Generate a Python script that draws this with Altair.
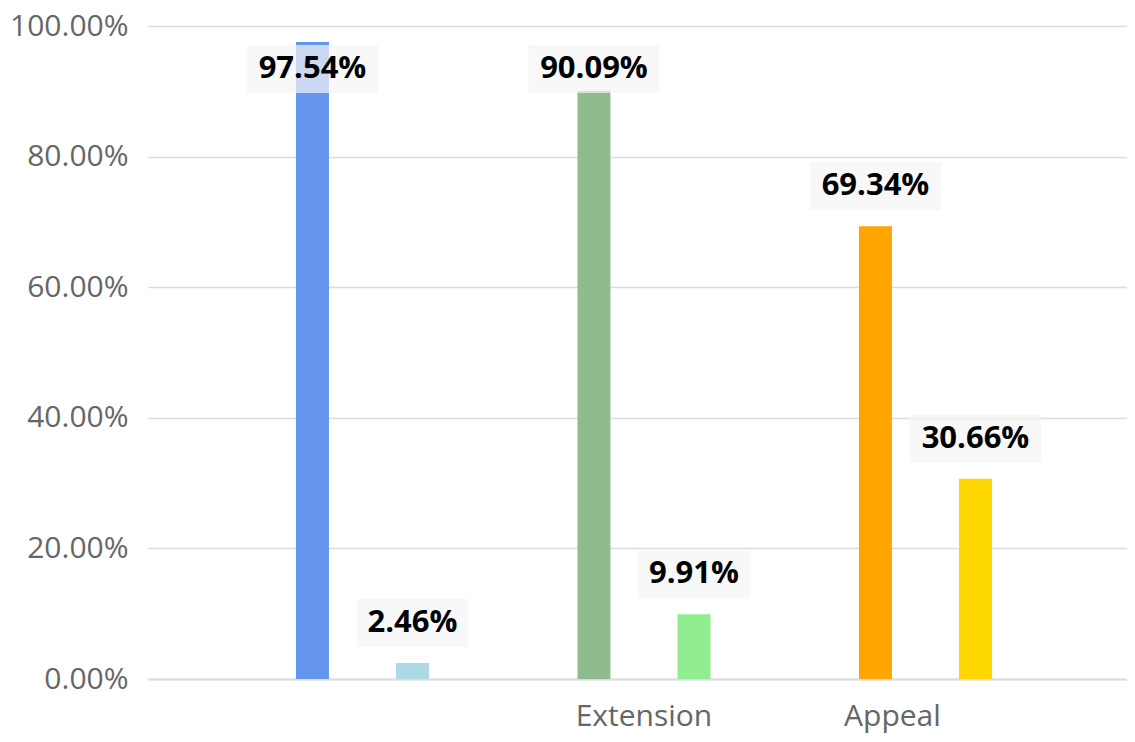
import altair as alt
import pandas as pd

categories = ["", "Extension", "Appeal"]
first_values = [97.54, 90.09, 69.34]
second_values = [2.46, 9.91, 30.66]
first_colors = ["#6495ED", "#8FBC8F", "#FFA500"]
second_colors = ["#ADD8E6", "#90EE90", "#FFD700"]

rows = []
keys = []
colors = []
for i, c in enumerate(categories):
    rows.append({"cat": c, "part": "a", "key": f"{i}a", "value": first_values[i] / 100})
    rows.append({"cat": c, "part": "b", "key": f"{i}b", "value": second_values[i] / 100})
    keys += [f"{i}a", f"{i}b"]
    colors += [first_colors[i], second_colors[i]]
df = pd.DataFrame(rows)

FONT = "Open Sans"

x_scale = alt.Scale(paddingOuter=0.2389, paddingInner=0, align=0.548)
xo_scale = alt.Scale(paddingInner=0.67, paddingOuter=0.7425)
y_scale = alt.Scale(domain=[0, 1])

x_enc = alt.X(
    "cat:N",
    sort=categories,
    scale=x_scale,
    axis=alt.Axis(
        title=None,
        labelAngle=0,
        labelFont=FONT,
        labelFontSize=30,
        labelColor="#666666",
        labelPadding=22,
        labelOffset={"condition": {"test": "datum.value === 'Appeal'", "value": -33}, "value": 0},
        ticks=False,
        domain=True,
        domainColor="#dcdcdc",
        domainWidth=2,
        grid=False,
    ),
)

bars = alt.Chart(df).mark_bar().encode(
    x=x_enc,
    xOffset=alt.XOffset("part:N", scale=xo_scale),
    y=alt.Y(
        "value:Q",
        scale=y_scale,
        axis=alt.Axis(
            title=None,
            format=".2%",
            values=[0, 0.2, 0.4, 0.6, 0.8, 1.0],
            labelFont=FONT,
            labelFontSize=30,
            labelColor="#666666",
            labelPadding=20,
            ticks=False,
            domain=False,
            gridColor="#dcdcdc",
            gridWidth=1.5,
        ),
    ),
    color=alt.Color("key:N", scale=alt.Scale(domain=keys, range=colors), legend=None),
)

labelled = alt.Chart(df).transform_calculate(
    box_lo="min(datum.value, 0.873) + 0.0245",
    box_hi="min(datum.value, 0.873) + 0.098",
    text_y="min(datum.value, 0.873) + 0.0613",
    label="format(datum.value, '.2%')",
    box_w="length(format(datum.value, '.2%')) * 19 + 17",
)

boxes = labelled.mark_bar(color="#f5f5f5", opacity=0.7).encode(
    x=alt.X("cat:N", sort=categories),
    xOffset="part:N",
    y=alt.Y("box_lo:Q", scale=y_scale),
    y2="box_hi:Q",
    size=alt.Size("box_w:Q", scale=None, legend=None),
)

texts = labelled.mark_text(
    font=FONT, fontSize=31, fontWeight="bold", color="#000000", baseline="middle", align="center"
).encode(
    x=alt.X("cat:N", sort=categories),
    xOffset="part:N",
    y=alt.Y("text_y:Q", scale=y_scale),
    text="label:N",
)

chart = (
    alt.layer(bars, boxes, texts)
    .properties(
        width=979,
        height=653,
        background="#ffffff",
        autosize=alt.AutoSizeParams(type="none"),
        padding={"left": 140, "top": 18, "right": 0, "bottom": 55},
    )
    .configure_view(stroke="transparent", strokeWidth=0)
)

chart.save("out.html", embed_options={"renderer": "svg", "actions": False})
